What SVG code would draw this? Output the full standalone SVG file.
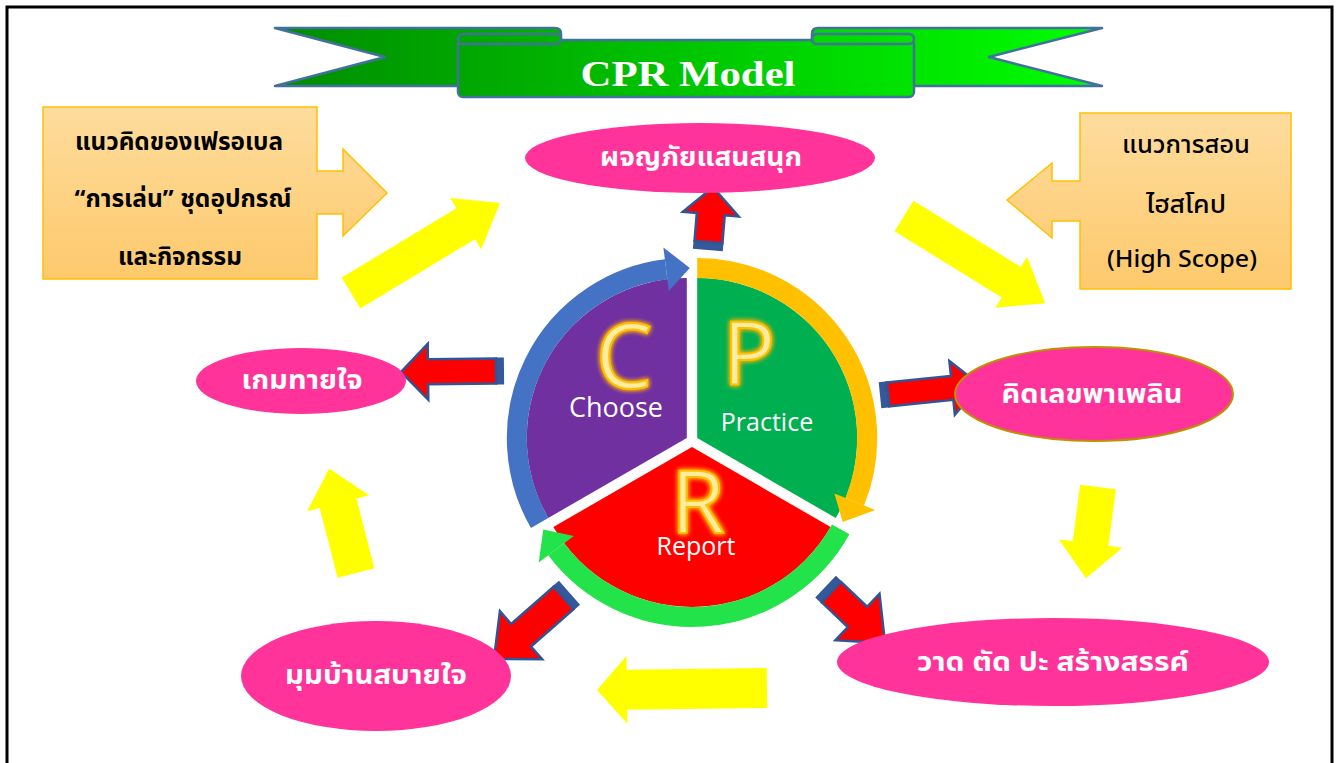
<svg xmlns="http://www.w3.org/2000/svg" width="1338" height="763" viewBox="0 0 1338 763">
<defs>
<linearGradient id="gBan" gradientUnits="userSpaceOnUse" x1="275" y1="0" x2="1100" y2="0"><stop offset="0" stop-color="#008c00"/><stop offset="1" stop-color="#00ff00"/></linearGradient>
<linearGradient id="gBox" x1="0" y1="0" x2="0" y2="1"><stop offset="0" stop-color="#fedc9d"/><stop offset="1" stop-color="#fdc96c"/></linearGradient>
<filter id="glow" x="-30%" y="-30%" width="160%" height="160%"><feGaussianBlur in="SourceAlpha" stdDeviation="2.5" result="b"/><feFlood flood-color="#ffb000"/><feComposite in2="b" operator="in" result="g"/><feMerge><feMergeNode in="g"/><feMergeNode in="g"/><feMergeNode in="SourceGraphic"/></feMerge></filter>
<style>
.thai{font-family:"Noto Sans Thai","Noto Sans Thai UI","Leelawadee UI",Tahoma,"Noto Sans","DejaVu Sans",sans-serif}
.ell{fill:#ff3399}
.et{fill:#fff;font-weight:bold;font-size:26px;text-anchor:middle}
.bt{fill:#000;font-size:24px;text-anchor:middle}
.box{fill:url(#gBox);stroke:#ffc000;stroke-width:1.5}
.ban{fill:url(#gBan);stroke:#41719c;stroke-width:2.5;stroke-linejoin:round}
.ya{fill:#ffff00}
.ra{fill:#ff0000;stroke:#2f5597;stroke-width:2.5}
.band{fill:#34589a}
.ring{fill:none;stroke-width:20}
.big{font-family:"Open Sans","Noto Sans",sans-serif;fill:#ffec9e;stroke:#ffc000;stroke-width:2;text-anchor:middle}
.lbl{font-family:"Open Sans","Noto Sans",sans-serif;fill:#fff;text-anchor:middle}
</style>
</defs>
<rect x="0" y="0" width="1338" height="763" fill="#fff"/>
<rect x="7" y="7" width="1325" height="780" fill="#fff" stroke="#000" stroke-width="3"/>

<g id="banner">
<path class="ban" d="M275,28 L555,28 Q561,28 561,34 L561,86 L275,86 L385,57 Z"/>
<path class="ban" d="M1102,28 L818,28 Q812,28 812,34 L812,86 L1102,86 L989,57 Z"/>
<rect class="ban" x="458" y="40" width="456" height="57" rx="5"/>
<rect class="ban" x="458" y="34" width="103" height="10" rx="5"/>
<rect class="ban" x="812" y="34" width="102" height="10" rx="5"/>
<text x="688" y="86" font-family="'Liberation Serif',serif" font-weight="bold" font-size="36" fill="#fff" text-anchor="middle" textLength="215" lengthAdjust="spacingAndGlyphs">CPR Model</text>
</g>

<g id="box-froebel">
<path class="box" d="M43,107 H317 V171 H343 V149 L387,193 L343,236 V214 H317 V279 H43 Z"/>
<text class="thai bt" font-weight="bold" x="179" y="150" textLength="208" lengthAdjust="spacingAndGlyphs">แนวคิดของเฟรอเบล</text>
<text class="thai bt" font-weight="bold" x="183" y="207" textLength="217" lengthAdjust="spacingAndGlyphs">“การเล่น” ชุดอุปกรณ์</text>
<text class="thai bt" font-weight="bold" x="180" y="265" textLength="124" lengthAdjust="spacingAndGlyphs">และกิจกรรม</text>
</g>

<g id="box-highscope">
<path class="box" d="M1291,113 H1080 V181 H1052 V163 L1007,200 L1052,238 V221 H1080 V289 H1291 Z"/>
<text class="thai bt" font-weight="500" x="1186" y="153" textLength="128" lengthAdjust="spacingAndGlyphs">แนวการสอน</text>
<text class="thai bt" font-weight="500" x="1186" y="213" textLength="80" lengthAdjust="spacingAndGlyphs">ไฮสโคป</text>
<text class="thai bt" font-weight="500" x="1182" y="267" textLength="150" lengthAdjust="spacingAndGlyphs">(High Scope)</text>
</g>

<g id="connectors">
<polygon class="ya" points="0,-18 134,-18 134,-30 174,0 134,30 134,18 0,18" transform="translate(351,293) rotate(-31.1)"/>
<polygon class="ya" points="0,-18 126,-18 126,-30 166,0 126,30 126,18 0,18" transform="translate(904,216) rotate(31.7)"/>
<polygon class="ya" points="0,-18 57,-18 57,-32 92,0 57,32 57,18 0,18" transform="translate(1098,487) rotate(97.5)"/>
<polygon class="ya" points="0,-20 140,-20 140,-34 170,0 140,34 140,20 0,20" transform="translate(767,688) rotate(179.3)"/>
<polygon class="ya" points="0,-19 72,-19 72,-32 108,0 72,32 72,19 0,19" transform="translate(356,573) rotate(-104.4)"/>

<g transform="translate(708,248) rotate(-85.3)"><rect class="band" x="-2" y="-15" width="9" height="30"/><polygon class="ra" points="6,-14 34,-14 34,-28 61,0 34,28 34,14 6,14"/></g>
<g transform="translate(502,371) rotate(179.4)"><rect class="band" x="-2" y="-13.5" width="9" height="27"/><polygon class="ra" points="6,-12.5 74,-12.5 74,-28 101,0 74,28 74,12.5 6,12.5"/></g>
<g transform="translate(882,395) rotate(-5.8)"><rect class="band" x="-2" y="-13" width="9" height="26"/><polygon class="ra" points="6,-12 70.5,-12 70.5,-27 98.5,0 70.5,27 70.5,12 6,12"/></g>
<g transform="translate(568,594) rotate(138.7)"><rect class="band" x="-2" y="-16" width="9" height="32"/><polygon class="ra" points="6,-15 62.5,-15 62.5,-32 98.5,0 62.5,32 62.5,15 6,15"/></g>
<g transform="translate(827,588) rotate(43.5)"><rect class="band" x="-2" y="-15" width="9" height="30"/><polygon class="ra" points="6,-14 42,-14 42,-32 80,0 42,32 42,14 6,14"/></g>
</g>

<g id="cycle">
<g id="choose">
<path d="M686.8,438 L548.2,518 A160,160 0 0 1 686.8,278 Z" fill="#7030a0"/>
<path class="ring" stroke="#4472c4" d="M539.6,523 A170,170 0 0 1 666.1,269.3"/>
<polygon fill="#4472c4" points="668.8,291.1 663.4,247.4 689.8,268"/>
<text class="big" x="624" y="388" font-size="90" filter="url(#glow)">C</text>
<text class="lbl" x="616" y="417" font-size="27">Choose</text>
</g>
<g id="practice">
<path d="M697.2,438 L697.2,278 A160,160 0 0 1 835.8,518 Z" fill="#00b050"/>
<path class="ring" stroke="#ffc000" d="M697.2,268 A170,170 0 0 1 854.8,501.7"/>
<polygon fill="#ffc000" points="834.4,493.4 875.2,509.9 842.7,522"/>
<text class="big" x="749" y="385" font-size="88" filter="url(#glow)">P</text>
<text class="lbl" x="767" y="431" font-size="25">Practice</text>
</g>
<g id="report">
<path d="M692,447 L830.6,527 A160,160 0 0 1 553.4,527 Z" fill="#ff0000"/>
<path class="ring" stroke="#22e34a" d="M840.7,529.4 A170,170 0 0 1 556.2,549.3"/>
<polygon fill="#22e34a" points="573.8,536.1 538.7,562.5 543.3,529.4"/>
<text class="big" x="698" y="533" font-size="88" filter="url(#glow)">R</text>
<text class="lbl" x="696" y="555" font-size="25">Report</text>
</g>
</g>

<g id="adventure">
<ellipse class="ell" cx="700" cy="158" rx="175" ry="35"/>
<text class="thai et" x="701" y="166" textLength="202" lengthAdjust="spacingAndGlyphs">ผจญภัยแสนสนุก</text>
</g>
<g id="guessing">
<ellipse class="ell" cx="301" cy="381" rx="105" ry="33"/>
<text class="thai et" x="302" y="389" textLength="121" lengthAdjust="spacingAndGlyphs">เกมทายใจ</text>
</g>
<g id="math">
<ellipse class="ell" cx="1094" cy="394" rx="139" ry="47" stroke="#bf9000" stroke-width="2"/>
<text class="thai et" x="1092" y="403" textLength="181" lengthAdjust="spacingAndGlyphs">คิดเลขพาเพลิน</text>
</g>
<g id="home-corner">
<ellipse class="ell" cx="376" cy="676" rx="135" ry="55"/>
<text class="thai et" x="376" y="684" textLength="182" lengthAdjust="spacingAndGlyphs">มุมบ้านสบายใจ</text>
</g>
<g id="art">
<ellipse class="ell" cx="1053" cy="662" rx="216" ry="44"/>
<text class="thai et" x="1053" y="671" textLength="272" lengthAdjust="spacingAndGlyphs">วาด ตัด ปะ สร้างสรรค์</text>
</g>
</svg>
